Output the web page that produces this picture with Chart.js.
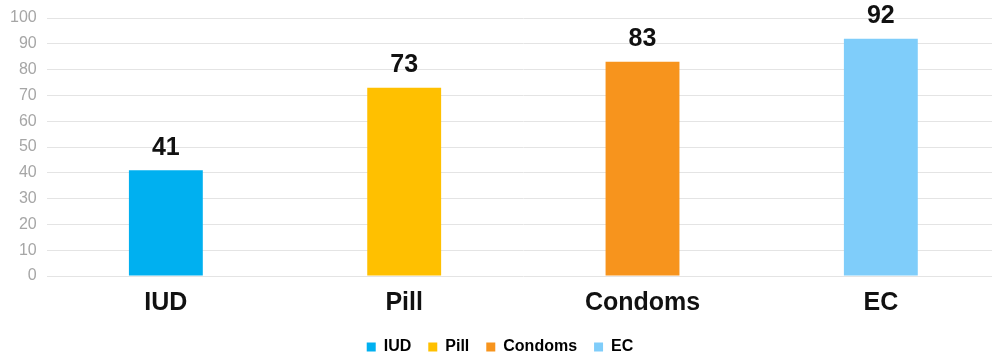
<!DOCTYPE html>
<html>
<head>
<meta charset="utf-8">
<script src="https://cdn.jsdelivr.net/npm/chart.js@4"></script>
<style>
  html, body { margin: 0; padding: 0; background: #fff; overflow: hidden; }
  #wrap { width: 1000px; height: 355px; }
</style>
</head>
<body>
<div id="wrap"><canvas id="chart"></canvas></div>
<script>
const categories = ['IUD', 'Pill', 'Condoms', 'EC'];
const values = [41, 73, 83, 92];
const barColors = ['#00B0F0', '#FFC000', '#F7941D', '#7FCDFA'];

// draws the value above each bar
const valueLabels = {
  id: 'valueLabels',
  afterDatasetsDraw(chart) {
    const ctx = chart.ctx;
    const meta = chart.getDatasetMeta(0);
    ctx.save();
    ctx.font = 'bold 25px "Liberation Sans", Arial, sans-serif';
    ctx.fillStyle = '#111';
    ctx.textAlign = 'center';
    ctx.textBaseline = 'bottom';
    meta.data.forEach((bar, i) => {
      ctx.fillText(values[i], bar.x, bar.y - 10);
    });
    ctx.restore();
  }
};

// legend needs wide gaps between items but sits close to the bottom edge
const legendTrim = {
  id: 'legendTrim',
  afterInit(chart) {
    const fit = chart.legend.fit;
    chart.legend.fit = function () {
      fit.call(this);
      this.height -= 10;
    };
  }
};

new Chart(document.getElementById('chart'), {
  type: 'bar',
  data: {
    labels: categories,
    datasets: [{
      data: values,
      backgroundColor: barColors,
      barPercentage: 0.31,
      categoryPercentage: 1
    }]
  },
  options: {
    responsive: true,
    maintainAspectRatio: false,
    animation: false,
    layout: { padding: { top: 10, right: 0, left: 0, bottom: 0 } },
    scales: {
      y: {
        min: 0,
        max: 100,
        ticks: {
          stepSize: 10,
          color: '#a6a6a6',
          padding: 10,
          font: { family: '"Liberation Sans", Arial, sans-serif', size: 16, lineHeight: 1 }
        },
        grid: { color: '#e4e4e4', drawTicks: false },
        border: { display: false }
      },
      x: {
        ticks: {
          color: '#111',
          padding: 4,
          font: { family: '"Liberation Sans", Arial, sans-serif', size: 25, weight: 'bold' }
        },
        grid: { display: false },
        border: { display: false }
      }
    },
    plugins: {
      tooltip: { enabled: false },
      legend: {
        position: 'bottom',
        labels: {
          boxWidth: 9,
          boxHeight: 9,
          padding: 17,
          color: '#111',
          font: { family: '"Liberation Sans", Arial, sans-serif', size: 16, weight: 'bold' },
          generateLabels: () => categories.map((c, i) => ({
            text: c,
            fillStyle: barColors[i],
            strokeStyle: barColors[i],
            lineWidth: 0,
            index: i
          }))
        }
      }
    }
  },
  plugins: [valueLabels, legendTrim]
});
</script>
</body>
</html>
